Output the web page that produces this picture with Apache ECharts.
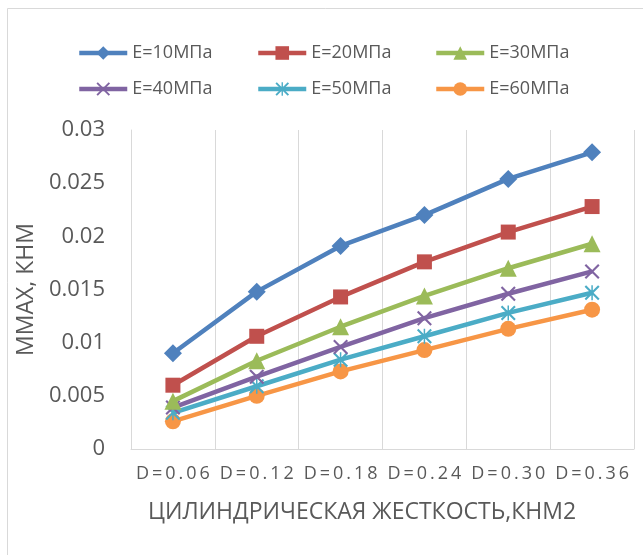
<!DOCTYPE html>
<html>
<head>
<meta charset="utf-8">
<script src="https://cdn.jsdelivr.net/npm/echarts@6/dist/echarts.min.js"></script>
<style>
  html, body { margin: 0; padding: 0; background: #ffffff; }
  #chart { width: 643px; height: 555px; }
</style>
</head>
<body>
<div id="chart"></div>
<script>
// Cylindrical stiffness categories
const categories = ['D=0.06', 'D=0.12', 'D=0.18', 'D=0.24', 'D=0.30', 'D=0.36'];

// Maximum moment, kN·m, for each soil modulus E
const e10 = [0.0090, 0.0148, 0.0191, 0.0220, 0.0254, 0.0279];
const e20 = [0.0060, 0.0106, 0.0143, 0.0176, 0.0204, 0.0228];
const e30 = [0.0045, 0.0083, 0.0115, 0.0144, 0.0170, 0.0193];
const e40 = [0.0039, 0.0068, 0.0096, 0.0123, 0.0146, 0.0167];
const e50 = [0.0034, 0.0059, 0.0084, 0.0106, 0.0128, 0.0147];
const e60 = [0.0026, 0.0050, 0.0073, 0.0093, 0.0113, 0.0131];

const seriesNames = ['E=10МПа', 'E=20МПа', 'E=30МПа', 'E=40МПа', 'E=50МПа', 'E=60МПа'];
const seriesData = [e10, e20, e30, e40, e50, e60];

const xTitle = 'ЦИЛИНДРИЧЕСКАЯ ЖЕСТКОСТЬ,КНМ2';
const yTitle = 'ММАХ, КНМ';

const colors = ['#4f81bd', '#c0504d', '#9bbb59', '#8064a2', '#4bacc6', '#f79646'];
const crossPath = 'path://M2,0 L10,8 L18,0 L20,2 L12,10 L20,18 L18,20 L10,12 L2,20 L0,18 L8,10 L0,2 Z';
const starPath = 'path://M2,0 L10,8 L18,0 L20,2 L12,10 L20,18 L18,20 L10,12 L2,20 L0,18 L8,10 L0,2 Z M9,0 L11,0 L11,20 L9,20 Z';
const symbols = ['diamond', 'rect', 'triangle', crossPath, starPath, 'circle'];
const symbolSizes = [18, 15, 17, 15, 15, 16];

const textColor = '#595959';
const fontFamily = '"Open Sans", "Noto Sans", sans-serif';

// One legend per entry so the three columns line up exactly
const legendCols = [77, 256, 434];
const legendRows = [44, 80];
const legends = seriesNames.map((name, i) => ({
  data: [name],
  left: legendCols[i % 3],
  top: legendRows[Math.floor(i / 3)],
  padding: 0,
  itemWidth: 48,
  itemHeight: 17,
  itemGap: 0,
  lineStyle: { width: 4.5 },
  textStyle: { color: textColor, fontSize: 18, fontFamily: fontFamily }
}));

const chart = echarts.init(document.getElementById('chart'), null, { renderer: 'canvas' });

chart.setOption({
  backgroundColor: '#ffffff',
  animation: false,
  color: colors,
  graphic: [{
    type: 'rect',
    shape: { x: 7.5, y: 8.5, width: 660, height: 580 },
    style: { fill: 'none', stroke: '#d9d9d9', lineWidth: 1 },
    silent: true,
    z: -1
  }, {
    type: 'text',
    x: 362,
    y: 512,
    style: {
      text: xTitle,
      fill: textColor,
      font: '23px "Open Sans", "Noto Sans", sans-serif',
      align: 'center',
      verticalAlign: 'middle'
    },
    silent: true
  }],
  legend: legends,
  grid: { left: 131, right: 9, top: 130, bottom: 106, containLabel: false },
  xAxis: {
    type: 'category',
    data: categories,
    boundaryGap: true,
    axisLine: { show: true, lineStyle: { color: '#d9d9d9', width: 1 } },
    axisTick: { show: false },
    splitLine: { show: true, interval: 0, lineStyle: { color: '#d9d9d9', width: 1 } },
    axisLabel: {
      interval: 0,
      color: textColor,
      fontSize: 18,
      fontFamily: fontFamily,
      margin: 16,
      // spaced-out lettering of the stiffness labels
      formatter: v => v.split('').join('\u2009')
    }
  },
  yAxis: {
    type: 'value',
    min: 0,
    max: 0.03,
    interval: 0.005,
    axisLine: { show: true, lineStyle: { color: '#d9d9d9', width: 1 } },
    axisTick: { show: false },
    splitLine: { show: false },
    axisLabel: {
      color: textColor,
      fontSize: 22,
      fontFamily: fontFamily,
      margin: 26,
      formatter: v => String(parseFloat(v.toFixed(4)))
    },
    name: yTitle,
    nameLocation: 'middle',
    nameRotate: 90,
    nameGap: 90,
    nameTextStyle: { color: textColor, fontSize: 23, fontFamily: fontFamily }
  },
  series: seriesNames.map((name, i) => ({
    name: name,
    type: 'line',
    data: seriesData[i],
    symbol: symbols[i],
    symbolSize: symbolSizes[i],
    showAllSymbol: true,
    lineStyle: { width: 4.5, color: colors[i] },
    itemStyle: { color: colors[i] },
    z: 10 - i
  }))
});
</script>
</body>
</html>
